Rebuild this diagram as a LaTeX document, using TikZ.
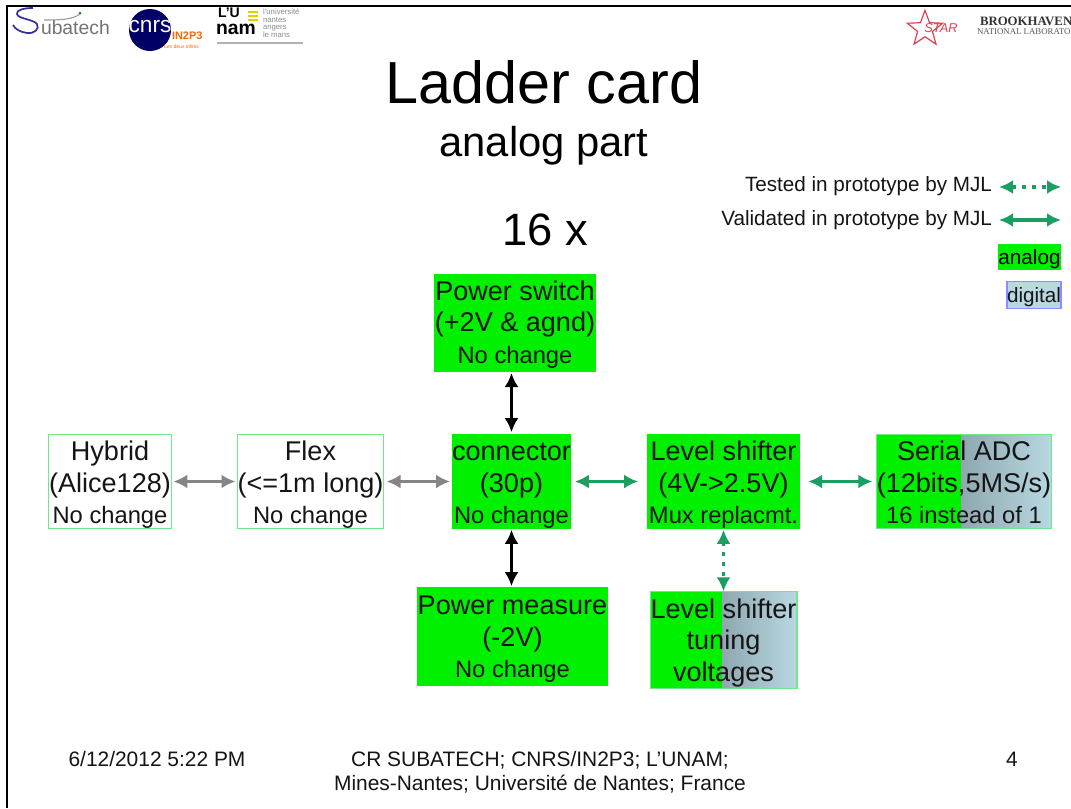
\documentclass[tikz,border=0pt]{standalone}
\usepackage{fontspec}
\setmainfont{Liberation Sans}
\newfontfamily\serifbold{Liberation Serif}
\usetikzlibrary{arrows.meta,shapes.geometric}
\definecolor{agreen}{HTML}{00F000}
\definecolor{lgreen}{HTML}{6FE88A}
\definecolor{arrg}{HTML}{1B9E5F}
\definecolor{arrgrey}{HTML}{858585}
\definecolor{dgA}{HTML}{8FA8B0}
\definecolor{dgB}{HTML}{B8D8E2}
\definecolor{txt}{HTML}{151515}
\definecolor{starred}{HTML}{E0404F}
\newcommand{\sml}[1]{\fontsize{17.8}{23.6}\selectfont #1}
\newcommand{\topsp}[1]{\rule{0pt}{#1}}
\tikzset{
 x=0.75pt,y=-0.75pt,
 every node/.style={text=txt,inner sep=0pt,outer sep=0pt},
 blockbase/.style={minimum width=#1,align=center,font=\fontsize{20.3}{23.6}\selectfont},
 analogbox/.style={rectangle,fill=agreen},
 whitebox/.style={rectangle,draw=lgreen,line width=1pt,fill=white},
 mixbox/.style={rectangle,draw=lgreen,line width=1pt,path picture={
   \fill[agreen] (path picture bounding box.south west) rectangle ([xshift=#1*0.75pt]path picture bounding box.north west);
   \shade[left color=dgA,right color=dgB] ([xshift=#1*0.75pt]path picture bounding box.south west) rectangle (path picture bounding box.north east);}},
 tips/.style={line width=2.5pt,{Latex[length=10.5pt,width=10.5pt]}-{Latex[length=10.5pt,width=10.5pt]}},
 greyarr/.style={draw=arrgrey,tips},
 blackarr/.style={draw=black,tips},
 greenarr/.style={draw=arrg,tips},
 dotarr/.style={greenarr,dash pattern=on 3pt off 4.5pt},
 labeltext/.style={font=\fontsize{15.5}{18}\selectfont,anchor=east},
}
\begin{document}
\begin{tikzpicture}
\useasboundingbox (0,0) rectangle (1071,808);
\fill[white] (0,0) rectangle (1071,808);
% slide frame
\draw[black,line width=1.6pt] (7,808) -- (7,6) -- (1071,6);
% logos
\draw[draw=blue!50!black!80,line width=1.3pt] (33,8) .. controls (24,8) and (16,10) .. (17,14) .. controls (18,19) and (33,19) .. (37,24) .. controls (40,29) and (34,34) .. (27,33) .. controls (20,32) and (15,29) .. (13,25);
\draw[draw=black!40,line width=0.8pt] (44,20) .. controls (58,20) and (72,20) .. (80,14);
\fill[green!60!black] (80,13) circle (1.5);
\node[anchor=west,font=\fontsize{14.5}{15}\selectfont,text=black!55] (subatxt) at (41,28) {ubatech};
\fill[blue!40!black] (150,30) circle (21);
\node[font=\fontsize{17}{17}\selectfont,text=white] (cnrs) at (150,27) {cnrs};
\node[anchor=west,font=\bfseries\fontsize{8.2}{8.2}\selectfont,text=orange!80!red] (inp) at (172,36) {IN2P3};
\node[anchor=west,font=\fontsize{3.8}{3.8}\selectfont,text=orange!80!red] (infi) at (164,47) {Les deux infinis};
\node[anchor=west,font=\bfseries\fontsize{10.5}{11}\selectfont,text=black] (unam1) at (218,13) {L'U};
\node[anchor=west,font=\bfseries\fontsize{14.5}{15}\selectfont,text=black] (unam2) at (216,29) {nam};
\fill[yellow!70!olive] (248,11) rectangle (258,13) (248,15) rectangle (258,17) (248,19) rectangle (258,21);
\node[anchor=west,align=left,font=\fontsize{5.8}{5.3}\selectfont,text=black!45] (unamt) at (263,23.5) {l'université\\nantes\\angers\\le mans};
\draw[black!30,line width=0.8pt] (217,43) -- (303,43);
\node[star,star points=5,star point ratio=2.4,draw=starred,line width=0.9pt,minimum size=28pt] (starlogo) at (925,29) {};
\node[font=\itshape\fontsize{9.6}{9.6}\selectfont,text=starred] (startxt) at (941,28) {STAR};
\node[anchor=west,font=\bfseries\serifbold\fontsize{9.6}{9.6}\selectfont,text=black!80] (bnl1) at (980,21.5) {BROOKHAVEN};
\node[anchor=west,font=\serifbold\fontsize{6.6}{6.6}\selectfont,text=black!65] (bnl2) at (977,32) {NATIONAL LABORATORY};
% titles
\node[font=\fontsize{44.5}{44.5}\selectfont,text=black] (title) at (544,82) {Ladder card};
\node[font=\fontsize{31.3}{31.3}\selectfont,text=black] (subtitle) at (544,146) {analog part};
\node[font=\fontsize{34}{34}\selectfont,text=black] (sixteen) at (545,230) {16 x};
% legend
\node[labeltext] (ltest) at (992,186.5) {Tested in prototype by MJL};
\node[labeltext] (lval) at (992,220.5) {Validated in prototype by MJL};
\coordinate (t1) at (999,187); \coordinate (t2) at (1061,187);
\coordinate (v1) at (999,220); \coordinate (v2) at (1061,220);
\draw[dotarr] (t1) -- (t2);
\draw[greenarr] (v1) -- (v2);
\node[analogbox,minimum width=47.2pt,minimum height=20pt,font=\fontsize{15.5}{18}\selectfont,text=black] (lana) at (1029.5,257) {\topsp{14pt}analog};
\node[rectangle,draw=blue!45!white,line width=0.8pt,fill=dgB,minimum width=40.5pt,minimum height=20pt,font=\fontsize{15.5}{18}\selectfont] (ldig) at (1034,295) {\topsp{14pt}digital};
% blocks
\node[whitebox,blockbase=92pt,minimum height=70.5pt] (hyb) at (110,481.5) {\topsp{20pt}Hybrid\\(Alice128)\\\sml{No change}};
\node[whitebox,blockbase=109.5pt,minimum height=70.5pt] (flex) at (310.5,481.5) {\topsp{20pt}Flex\\(<=1m long)\\\sml{No change}};
\node[analogbox,blockbase=89pt,minimum height=71pt] (conn) at (511.5,481.5) {\topsp{20pt}connector\\(30p)\\\sml{No change}};
\node[analogbox,blockbase=115pt,minimum height=71pt] (lev) at (723.5,481.5) {\topsp{20pt}Level shifter\\(4V->2.5V)\\\sml{Mux replacmt.}};
\node[mixbox=85,blockbase=131.5pt,minimum height=70.5pt] (adc) at (964,481.5) {\topsp{16.2pt}Serial ADC\\(12bits,5MS/s)\\\sml{16 instead of 1}};
\node[analogbox,blockbase=121.5pt,minimum height=73.5pt] (psw) at (515,323) {\topsp{17pt}Power switch\\(+2V \& agnd)\\\sml{No change}};
\node[analogbox,blockbase=143pt,minimum height=74pt] (pm) at (512.5,636.5) {\topsp{18.5pt}Power measure\\(-2V)\\\sml{No change}};
\node[mixbox=72,blockbase=110pt,minimum height=73pt] (tun) at (723.5,640) {\topsp{18.5pt}Level shifter\\tuning\\voltages};
% connectors
\draw[greyarr,shorten <=1.5pt,shorten >=1.5pt] (hyb.east) -- (flex.west);
\draw[greyarr,shorten <=2.25pt,shorten >=1.5pt] (flex.east) -- (conn.west);
\draw[greenarr,shorten <=3pt,shorten >=6.5pt] (conn.east) -- (lev.west);
\draw[greenarr,shorten <=6pt,shorten >=3pt] (lev.east) -- (adc.west);
\draw[blackarr,shorten <=1.5pt,shorten >=0.75pt] (conn.north) -- (conn.north |- psw.south);
\draw[blackarr,shorten <=0.75pt,shorten >=0.75pt] (conn.south) -- (conn.south |- pm.north);
\draw[dotarr,shorten <=0.75pt,shorten >=0pt] (lev.south) -- (tun.north);
% footer
\node[font=\fontsize{15.7}{18}\selectfont] (date) at (157,759) {6/12/2012 5:22 PM};
\node[align=center,font=\fontsize{15.7}{18}\selectfont] (foot) at (540,772.5) {CR SUBATECH; CNRS/IN2P3; L'UNAM;\\Mines-Nantes; Université de Nantes; France};
\node[font=\fontsize{15.7}{18}\selectfont] (pageno) at (1012,759) {4};
\end{tikzpicture}
\end{document}
